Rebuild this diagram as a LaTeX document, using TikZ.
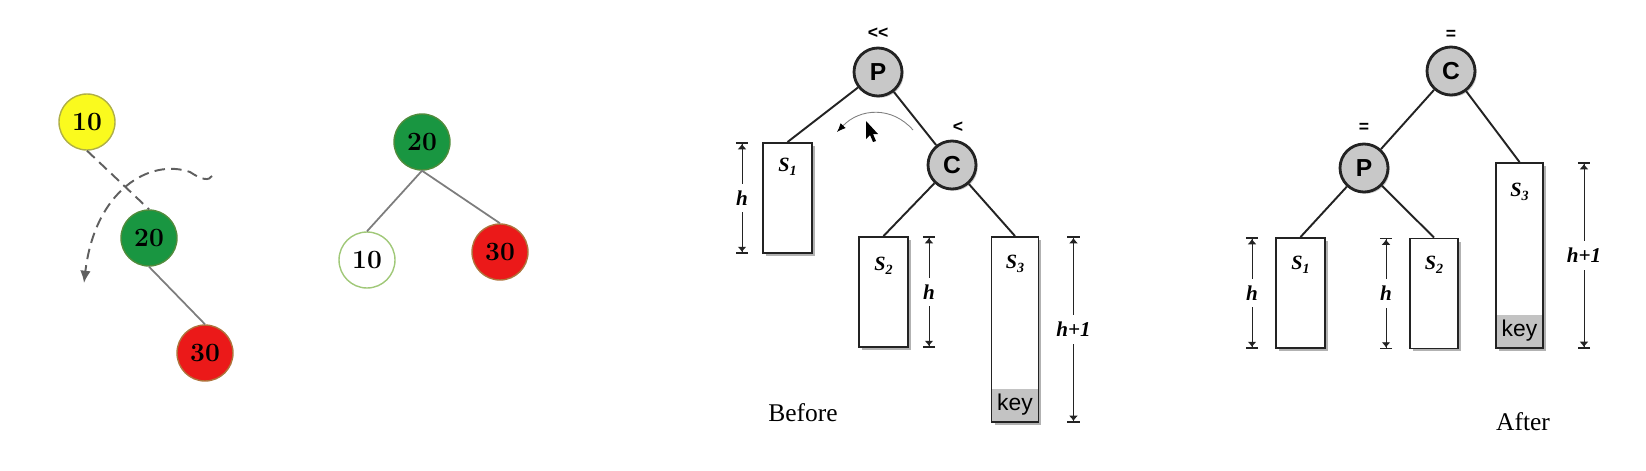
\documentclass[tikz,border=0pt]{standalone}
\usepackage{fontspec}
\newfontfamily\timesfont{Liberation Serif}
\newfontfamily\arialfont{Liberation Sans}
\usetikzlibrary{arrows.meta,shadows}
\tikzset{>=latex}
\definecolor{nyellow}{RGB}{250,250,30}
\definecolor{nyellowline}{RGB}{175,175,70}
\definecolor{ngreen}{RGB}{25,150,65}
\definecolor{ngreenline}{RGB}{80,140,60}
\definecolor{nred}{RGB}{235,25,25}
\definecolor{nredline}{RGB}{175,115,60}
\definecolor{nwhiteline}{RGB}{160,200,120}
\definecolor{edgegray}{RGB}{125,125,125}
\definecolor{dashgray}{RGB}{95,95,95}
\definecolor{pivotgray}{RGB}{200,200,200}
\definecolor{keygray}{RGB}{195,195,195}
\definecolor{linkblack}{RGB}{35,35,35}

\newcommand{\stree}[1]{S\raisebox{-0.45ex}{\fontsize{8}{8}\selectfont #1}}

\tikzset{
	num/.style={circle, minimum size=1.12cm, inner sep=0pt, line width=0.8pt, font=\fontsize{15}{18}\selectfont\bfseries},
	tedge/.style={draw=edgegray, line width=1pt},
	turn/.style={draw=dashgray, line width=1.1pt, dash pattern=on 6pt off 3.5pt, -{Latex[length=7pt,width=6pt]}},
	pivot/.style={circle, minimum size=0.96cm, inner sep=0pt, fill=pivotgray, draw=linkblack, line width=1.6pt, font=\arialfont\bfseries\fontsize{14}{16}\selectfont, drop shadow={shadow xshift=1pt, shadow yshift=-1pt, fill=black!40}},
	subtree/.style={rectangle, inner sep=0pt, minimum width=0.98cm, fill=white, draw=linkblack, line width=1.1pt, drop shadow={shadow xshift=1.7pt, shadow yshift=-1.7pt, fill=black!60}},
	keyfill/.style={rectangle, inner sep=0pt, fill=keygray, font=\arialfont\fontsize{13}{15}\selectfont},
	link/.style={draw=linkblack, line width=1.1pt},
	swing/.style={draw=gray, line width=0.5pt, -{Latex[length=5pt,width=4pt,black]}},
	dim/.style={draw=linkblack, line width=0.5pt, {Bar[width=7pt,line width=1.1pt]Latex[length=3pt,width=5pt]}-{Latex[length=3pt,width=5pt]Bar[width=7pt,line width=1.1pt]}},
	dimlabel/.style={fill=white, inner xsep=1.5pt, inner ysep=4pt, font=\timesfont\bfseries\itshape\fontsize{12}{14}\selectfont},
	sublabel/.style={inner sep=0pt, font=\timesfont\bfseries\itshape\fontsize{11.5}{13}\selectfont},
	balance/.style={inner sep=0pt, font=\arialfont\bfseries\fontsize{10}{12}\selectfont},
	caption/.style={inner sep=0pt, font=\timesfont\fontsize{14.5}{17}\selectfont},
}

\begin{document}
\begin{tikzpicture}[x=0.02cm, y=-0.02cm]
	\useasboundingbox (0,0) rectangle (1646,470);

	\node[num, fill=nyellow, draw=nyellowline] (a10) at (87,122) {10};
	\node[num, fill=ngreen, draw=ngreenline] (a20) at (149,238) {20};
	\node[num, fill=nred, draw=nredline] (a30) at (205,353) {30};
	\draw[tedge, draw=dashgray, line width=1.1pt, dash pattern=on 6pt off 3.5pt] (a10.south) -- (a20.north);
	\draw[tedge] (a20.south) -- (a30.north);

	\coordinate (turnstart) at (212,176);
	\coordinate (turnmid) at (190,172);
	\coordinate (turnend) at (84,283);
	\draw[turn] (turnstart) .. controls (209,181) and (202,180) .. (turnmid) .. controls (150,158) and (95,190) .. (turnend);

	\node[num, fill=ngreen, draw=ngreenline] (b20) at (422,142) {20};
	\node[num, fill=white, draw=nwhiteline] (b10) at (367,260) {10};
	\node[num, fill=nred, draw=nredline] (b30) at (500,252) {30};
	\draw[tedge] (b20.south) -- (b10.north);
	\draw[tedge] (b20.south) -- (b30.north);

	\node[pivot] (bp) at (878,72) {P};
	\node[pivot] (bc) at (952,165) {C};
	\node[subtree, minimum height=2.2cm] (bs1) at (787.5,198) {};
	\node[subtree, minimum height=2.2cm] (bs2) at (883.5,292) {};
	\node[subtree, minimum width=0.94cm, minimum height=3.7cm] (bs3) at (1015,329.5) {};
	\node[keyfill, anchor=south, minimum width=0.94cm-1.1pt, minimum height=0.64cm] (bk) at ([yshift=1.1pt]bs3.south) {key};
	\draw[link] (bp) -- (bs1.north);
	\draw[link] (bp) -- (bc);
	\draw[link] (bc) -- (bs2.north);
	\draw[link] (bc) -- (bs3.north);

	\node[sublabel] (bl1) at ([yshift=-0.5cm]bs1.north) {\stree{1}};
	\node[sublabel] (bl2) at ([yshift=-0.6cm]bs2.north) {\stree{2}};
	\node[sublabel] (bl3) at ([yshift=-0.56cm]bs3.north) {\stree{3}};

	\draw[dim] ([xshift=-0.4cm]bs1.north west) -- ([xshift=-0.4cm]bs1.south west) node[dimlabel, midway] (bh1) {h};
	\draw[dim] ([xshift=0.4cm]bs2.north east) -- ([xshift=0.4cm]bs2.south east) node[dimlabel, midway] (bh2) {h};
	\draw[dim] ([xshift=0.68cm]bs3.north east) -- ([xshift=0.68cm]bs3.south east) node[dimlabel, midway] (bh3) {h+1};

	\node[balance] (bpl) at (878,33) {{<}{<}};
	\node[balance] (bcl) at (958,127) {<};

	\coordinate (swingstart) at (913,130);
	\coordinate (swingend) at (837,132);
	\draw[swing] (swingstart) .. controls (892,106) and (860,108) .. (swingend);
	\fill[black] (866,121) -- (866,139) -- (870,135) -- (873,142) -- (876,141) -- (873,134) -- (878,134) -- cycle;

	\node[caption] (before) at (803,413) {Before};

	\node[pivot] (ac) at (1451,71) {C};
	\node[pivot] (ap) at (1364,168) {P};
	\node[subtree, minimum height=2.2cm] (as1) at (1300.5,293) {};
	\node[subtree, minimum width=0.96cm, minimum height=2.2cm] (as2) at (1434,293.5) {};
	\node[subtree, minimum width=0.94cm, minimum height=3.7cm] (as3) at (1519.5,255.5) {};
	\node[keyfill, anchor=south, minimum width=0.94cm-1.1pt, minimum height=0.64cm] (ak) at ([yshift=1.1pt]as3.south) {key};
	\draw[link] (ac) -- (ap);
	\draw[link] (ac) -- (as3.north);
	\draw[link] (ap) -- (as1.north);
	\draw[link] (ap) -- (as2.north);

	\node[sublabel] (al1) at ([yshift=-0.55cm]as1.north) {\stree{1}};
	\node[sublabel] (al2) at ([yshift=-0.55cm]as2.north) {\stree{2}};
	\node[sublabel] (al3) at ([yshift=-0.6cm]as3.north) {\stree{3}};

	\draw[dim] ([xshift=-0.46cm]as1.north west) -- ([xshift=-0.46cm]as1.south west) node[dimlabel, midway] (ah1) {h};
	\draw[dim] ([xshift=-0.46cm]as2.north west) -- ([xshift=-0.46cm]as2.south west) node[dimlabel, midway] (ah2) {h};
	\draw[dim] ([xshift=0.8cm]as3.north east) -- ([xshift=0.8cm]as3.south east) node[dimlabel, midway] (ah3) {h+1};

	\node[balance] (acl) at (1451,35) {=};
	\node[balance] (apl) at (1364,128) {=};

	\node[caption] (after) at (1523,422) {After};
\end{tikzpicture}
\end{document}
